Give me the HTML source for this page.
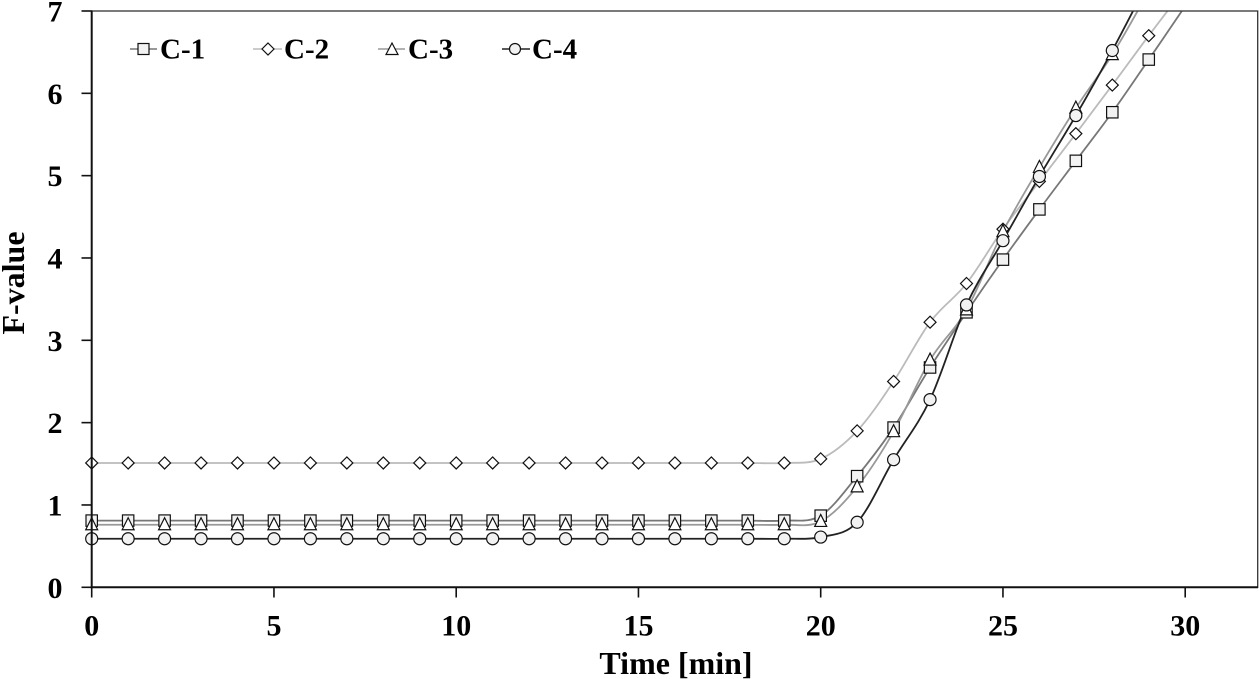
<!DOCTYPE html>
<html><head><meta charset="utf-8">
<style>
html,body{margin:0;padding:0;background:#fff;}
svg{display:block;}
text{font-family:"Liberation Serif","Times New Roman",serif;font-weight:bold;fill:#000;}
</style></head>
<body>
<svg id="c" width="1259" height="679" viewBox="0 0 1259 679" xmlns="http://www.w3.org/2000/svg">
<defs><clipPath id="pa"><rect x="91.7" y="11" width="1166.3" height="576.3"/></clipPath></defs>
<g id="lines" clip-path="url(#pa)"></g>
<g id="marks"></g>
<rect x="91.7" y="11" width="1166" height="576.3" fill="none" stroke="#333" stroke-width="1.3"/>
<line x1="91.7" y1="10.5" x2="91.7" y2="588.3" stroke="#111" stroke-width="2"/>
<line x1="90.7" y1="587.3" x2="1258" y2="587.3" stroke="#111" stroke-width="2"/>
<g id="ticks"></g>
<text x="676" y="674" font-size="32" text-anchor="middle">Time [min]</text>
<text transform="translate(24,283) rotate(-90)" font-size="32" text-anchor="middle">F-value</text>
<g id="legend">
 <line x1="130" y1="49" x2="157" y2="49" stroke="#777" stroke-width="1.6"/>
 <rect x="138" y="43.5" width="11" height="11" fill="#f2f2f2" stroke="#111" stroke-width="1.2"/>
 <text x="160" y="58.5" font-size="29">C-1</text>
 <line x1="253" y1="49" x2="282" y2="49" stroke="#bbb" stroke-width="1.6"/>
 <polygon points="268,43 274,49 268,55 262,49" fill="#fff" stroke="#111" stroke-width="1.2"/>
 <text x="284" y="58.5" font-size="29">C-2</text>
 <line x1="378" y1="49" x2="405" y2="49" stroke="#999" stroke-width="1.6"/>
 <polygon points="392,43 398,54.5 386,54.5" fill="#fff" stroke="#111" stroke-width="1.2"/>
 <text x="408" y="58.5" font-size="29">C-3</text>
 <line x1="502" y1="49" x2="530" y2="49" stroke="#222" stroke-width="1.6"/>
 <circle cx="515" cy="49" r="5.5" fill="#f2f2f2" stroke="#111" stroke-width="1.2"/>
 <text x="532" y="58.5" font-size="29">C-4</text>
</g>
</svg>
<script>
(function(){
var NS="http://www.w3.org/2000/svg";
function X(t){return 91.7+36.45*t;}
function Y(v){return 587.3-82.33*v;}
function el(tag,attrs,parent){var e=document.createElementNS(NS,tag);for(var k in attrs)e.setAttribute(k,attrs[k]);parent.appendChild(e);return e;}
var ticks=document.getElementById('ticks');
for(var i=0;i<=7;i++){
  var y=Y(i);
  el('line',{x1:81.5,y1:y,x2:91.7,y2:y,stroke:'#111','stroke-width':1.6},ticks);
  var t=el('text',{x:62.5,y:y+10.5,'font-size':30,'text-anchor':'end'},ticks);t.textContent=i;
}
for(var i=0;i<=30;i+=5){
  var x=X(i);
  el('line',{x1:x,y1:587.3,x2:x,y2:597.5,stroke:'#111','stroke-width':1.6},ticks);
  var t=el('text',{x:x,y:635.5,'font-size':30,'text-anchor':'middle'},ticks);t.textContent=i;
}
function flat(v,n){var a=[];for(var i=0;i<n;i++)a.push(v);return a;}
var series=[
 {c:'#777',m:'sq',d:flat(0.81,20).concat([0.87,1.35,1.94,2.67,3.34,3.98,4.59,5.18,5.77,6.41,7.06])},
 {c:'#bbb',m:'di',d:flat(1.51,20).concat([1.56,1.90,2.50,3.22,3.69,4.35,4.93,5.51,6.10,6.70,7.28])},
 {c:'#999',m:'tr',d:flat(0.76,20).concat([0.80,1.22,1.89,2.76,3.37,4.32,5.10,5.82,6.47,7.24])},
 {c:'#222',m:'ci',d:flat(0.59,20).concat([0.61,0.79,1.55,2.28,3.43,4.21,4.99,5.73,6.52,7.37])}
];
var lines=document.getElementById('lines'),marks=document.getElementById('marks');
series.forEach(function(s){
  var p=s.d.map(function(v,i){return [X(i),Y(v)];});
  var d='M'+p[0][0]+','+p[0][1];
  for(var i=0;i<p.length-1;i++){
    var p0=p[i>0?i-1:i],p1=p[i],p2=p[i+1],p3=p[i+2<p.length?i+2:i+1];
    var c1x=p1[0]+(p2[0]-p0[0])/6,c1y=p1[1]+(p2[1]-p0[1])/6;
    var c2x=p2[0]-(p3[0]-p1[0])/6,c2y=p2[1]-(p3[1]-p1[1])/6;
    d+=' C'+c1x.toFixed(2)+','+c1y.toFixed(2)+' '+c2x.toFixed(2)+','+c2y.toFixed(2)+' '+p2[0].toFixed(2)+','+p2[1].toFixed(2);
  }
  el('path',{d:d,fill:'none',stroke:s.c,'stroke-width':1.8},lines);
});
series.forEach(function(s){
  s.d.forEach(function(v,i){
    if(v>7)return;
    var x=X(i),y=Y(v);
    if(s.m==='sq')el('rect',{x:x-5.7,y:y-5.7,width:11.4,height:11.4,fill:'#f2f2f2',stroke:'#111','stroke-width':1.2},marks);
    else if(s.m==='di')el('polygon',{points:(x)+','+(y-6)+' '+(x+6)+','+y+' '+x+','+(y+6)+' '+(x-6)+','+y,fill:'#fff',stroke:'#111','stroke-width':1.2},marks);
    else if(s.m==='tr')el('polygon',{points:x+','+(y-7)+' '+(x+6)+','+(y+5)+' '+(x-6)+','+(y+5),fill:'#fff',stroke:'#111','stroke-width':1.2},marks);
    else el('circle',{cx:x,cy:y,r:6,fill:'#f2f2f2',stroke:'#111','stroke-width':1.2},marks);
  });
});
})();
</script>
</body></html>
